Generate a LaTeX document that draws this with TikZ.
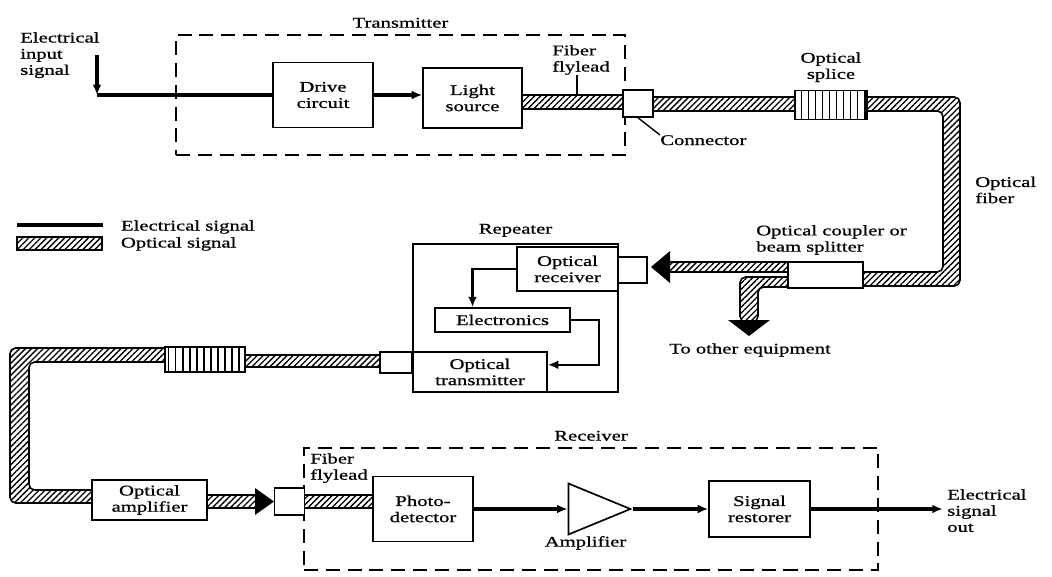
\documentclass[tikz,border=0pt]{standalone}
\usepackage{fontspec}
\setmainfont{Liberation Serif}[FakeStretch=1.4,FakeBold=0.8]
\usetikzlibrary{arrows.meta,positioning,patterns.meta,shapes.geometric}
\tikzset{box/.style={draw,line width=1.2pt,fill=white,align=center,inner sep=1pt,minimum width=#1},
  box/.default=2.5cm,
  conn/.style={draw,line width=1.2pt,fill=white,minimum width=0.75cm,minimum height=0.675cm,inner sep=0pt},
  splice/.style={draw,line width=1.2pt,preaction={fill=white},pattern={Lines[angle=90,distance=5pt,line width=1pt]},inner sep=0pt},
  fiber/.style={draw,line width=1.1pt,pattern={Lines[angle=45,distance=3pt,line width=0.95pt]}},
  bent/.style={fiber,rounded corners=4pt},
  dashbox/.style={draw,line width=1.2pt,dash pattern=on 10pt off 5.5pt,inner sep=0pt},
  eline/.style={line width=2.3pt},
  arr/.style={eline,-{Latex[length=2.6mm,width=2.2mm]}},
  lbl/.style={align=left,inner sep=0pt}}

\begin{document}
\begin{tikzpicture}[x=0.025cm,y=-0.025cm,font=\fontsize{10.5}{11.5}\selectfont]
\useasboundingbox (0,0) rectangle (1052,577);
% enclosures
\node[dashbox,minimum width=11.225cm,minimum height=3cm] (tx) at (400.5,95) {};
\node[above=1pt of tx] (txlbl) {Transmitter};
\node[dashbox,minimum width=14.35cm,minimum height=3.05cm] (rx) at (591,509) {};
\node[above=1pt of rx] (rxlbl) {Receiver};
\node[draw,line width=1.2pt,minimum width=5.125cm,minimum height=3.7cm] (rep) at (515.5,318) {};
\node[above=1pt of rep] (replbl) {Repeater};

% fibers
\path[fiber] (515,95) rectangle (630,109);
\path[fiber] (646,97) rectangle (800,111);
\path[bent] (860,97) -- (960,97) -- (960,286) -- (856,286) -- (856,272) -- (943,272) -- (943,111) -- (860,111) -- cycle;
\path[fiber] (668,262) rectangle (795,272);
\path[bent] (795,277) -- (740,277) -- (740,322) -- (758,322) -- (758,287) -- (795,287) -- cycle;
\fill (670,251) -- (651,267) -- (670,283) -- cycle;
\fill (728,320) -- (770,320) -- (749,336) -- cycle;
\path[fiber] (240,355) rectangle (385,367);
\path[bent] (172,348) -- (10,348) -- (10,503) -- (100,503) -- (100,490) -- (29,490) -- (29,362) -- (172,362) -- cycle;
\path[fiber] (200,495) rectangle (258,508);
\fill (255,488) -- (274,501.5) -- (255,515) -- cycle;
\path[fiber] (300,495) rectangle (378,508);

% legend
\draw[eline] (17,225) -- (103,225);
\path[fiber] (17,237) rectangle (102,250);
\node[right] (legE) at (116,227) {Electrical signal};
\node[right] (legO) at (116,244) {Optical signal};

% blocks
\node[box=2.5cm,minimum height=1.625cm] (drive) at (323,95) {Drive\\circuit};
\node[box=2.475cm,minimum height=1.5cm] (light) at (472.5,98) {Light\\source};
\node[conn] (conn1) at (638,103.5) {};
\node[splice,minimum width=1.8cm,minimum height=0.725cm] (splice1) at (831,105) {};
\node[box=1.875cm,minimum height=0.65cm] (coupler) at (825.5,275) {};
\node[box=2.525cm,minimum height=1.1cm] (orx) at (567.5,269) {Optical\\receiver};
\node[conn,minimum width=0.725cm,minimum height=0.65cm] (rconn) at (632.5,270) {};
\node[box=3.375cm,minimum height=0.6cm] (electr) at (502.5,320) {Electronics};
\node[box=3.35cm,minimum height=1cm] (otx) at (480,372) {Optical\\transmitter};
\node[conn,minimum width=0.8cm,minimum height=0.525cm] (lconn) at (396,362.5) {};
\node[splice,minimum width=2cm,minimum height=0.625cm] (splice2) at (205,359.5) {};
\node[box=2.875cm,minimum height=1cm] (oamp) at (149.5,500) {Optical\\amplifier};
\node[conn] (conn2) at (289.5,501.5) {};
\node[box=2.5cm,minimum height=1.625cm] (pd) at (423,509) {Photo-\\detector};
\node[draw,line width=1.2pt,fill=white,isosceles triangle,isosceles triangle stretches,minimum width=1.275cm,minimum height=1.55cm,inner sep=0pt] (amp) at (585.5,509) {};
\node[box=2.525cm,minimum height=1.4cm] (restorer) at (759.5,509) {Signal\\restorer};

% labels
\node[lbl,anchor=north west] (insig) at (20,32) {Electrical\\input\\signal};
\node[lbl,anchor=south west] (fly1) at (552,75) {Fiber\\flylead};
\node[lbl,anchor=north west] (connlbl) at (660,135) {Connector};
\node[above=2pt of splice1,align=center] (splicelbl) {Optical\\splice};
\node[lbl,anchor=west] (fiberlbl) at (975,190) {Optical\\fiber};
\node[lbl,anchor=south west] (couplbl) at (756,255) {Optical coupler or\\beam splitter};
\node (otherlbl) at (750,350) {To other equipment};
\node[lbl,anchor=north west] (fly2) at (310,453) {Fiber\\flylead};
\node[below=2pt of amp] (amplbl) {Amplifier};
\node[lbl,anchor=north west] (sigout) at (947,489) {Electrical\\signal\\out};

% electrical connections
\coordinate (intop) at (97,55);
\coordinate (incorner) at (97,95);
\coordinate (fly1tick) at (577,96);
\draw[arr] (intop) -- (incorner);
\draw[eline] (incorner) -- (drive.west);
\draw[arr] (drive.east) -- (light.west |- drive.east);
\draw[line width=1pt] (fly1tick |- fly1.south) -- (fly1tick);
\draw[line width=1pt] (conn1.south) -- (connlbl.north west);
\draw[arr,line width=1.5pt] (orx.west) -| ([xshift=-0.75cm]electr.north);
\draw[arr,line width=1.5pt] (electr.east) -- ++(0.7cm,0) |- ([yshift=0.18cm]otx.east);
\draw[arr] (pd.east) -- (amp.west);
\draw[arr] (amp.east) -- (restorer.west);
\draw[arr,shorten >=3pt] (restorer.east) -- (restorer.east -| sigout.west);
\end{tikzpicture}
\end{document}
